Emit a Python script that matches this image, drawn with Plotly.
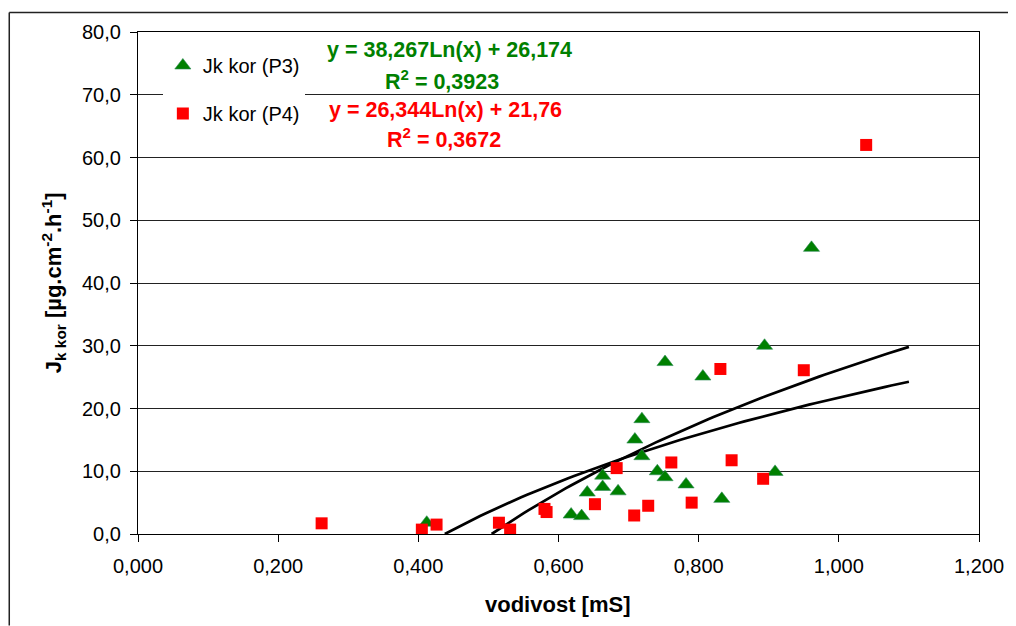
import numpy as np
import plotly.graph_objects as go

# ---- data ----
p3_x = [0.412, 0.618, 0.633, 0.641, 0.663, 0.663, 0.685, 0.709, 0.719, 0.719,
        0.741, 0.752, 0.752, 0.782, 0.806, 0.833, 0.894, 0.909, 0.961]
p3_y = [1.8, 3.1, 2.85, 6.6, 7.5, 9.3, 6.8, 15.05, 18.3, 12.4,
        10.0, 9.05, 27.4, 7.9, 25.1, 5.6, 30.0, 9.9, 45.6]
p4_x = [0.262, 0.405, 0.426, 0.515, 0.531, 0.580, 0.583, 0.652, 0.683, 0.708,
        0.728, 0.761, 0.790, 0.831, 0.847, 0.892, 0.950, 1.039]
p4_y = [1.7, 0.7, 1.5, 1.8, 0.7, 4.0, 3.5, 4.75, 10.5, 2.95,
        4.5, 11.4, 5.0, 26.3, 11.75, 8.8, 26.1, 62.0]

# trendline coefficients y = a*ln(x) + b (shown on chart)
p3_fit = [38.267, 26.174]
p4_fit = [26.344, 21.76]
trend_end = 1.1

x_ticks = [0.0, 0.2, 0.4, 0.6, 0.8, 1.0, 1.2]
y_ticks = [0, 10, 20, 30, 40, 50, 60, 70, 80]

GREEN = "#008000"
RED = "#FF0000"
FONT = "Liberation Sans, Arial, sans-serif"

# page body has an 8px margin -> figure starts at (8, 8) in the window
OX, OY = 8, 8
W, H = 1008, 618
ML, MT = 138 - OX, 32 - OY
PR, PB = 984 - OX, 534.5 - OY          # plot right / bottom in figure px
MR, MB = W - PR, H - PB
PW, PH = PR - ML, PB - MT


def px_x(px):
    """window pixel -> paper x"""
    return (px - OX - ML) / PW


def px_y(py):
    """window pixel -> paper y"""
    return (PB - (py - OY)) / PH


def trend(xs, fit):
    a, b = fit
    x0 = max(min(xs), float(np.exp(-b / a)))
    xx = np.linspace(x0, trend_end, 80)
    return xx, a * np.log(xx) + b


fig = go.Figure()

for xs, fit in ((p3_x, p3_fit), (p4_x, p4_fit)):
    tx, ty = trend(xs, fit)
    fig.add_trace(go.Scatter(x=tx, y=ty, mode="lines", showlegend=False,
                             line=dict(color="black", width=2.7),
                             hoverinfo="skip"))

fig.add_trace(go.Scatter(x=p3_x, y=p3_y, mode="markers", name="Jk kor (P3)",
                         legendgroup="a",
                         marker=dict(symbol="triangle-up", size=14, color=GREEN,
                                     line=dict(width=0.6, color="#2e8b57"))))
fig.add_trace(go.Scatter(x=p4_x, y=p4_y, mode="markers", name="Jk kor (P4)",
                         legendgroup="b",
                         marker=dict(symbol="square", size=12, color=RED,
                                     line=dict(width=0))))

fig.update_layout(
    width=W, height=H,
    margin=dict(l=ML, r=MR, t=MT, b=MB),
    paper_bgcolor="white", plot_bgcolor="white",
    separators=", ",
    font=dict(family=FONT, size=20, color="black"),
    showlegend=True,
    legend=dict(x=px_x(163), y=px_y(46), xanchor="left", yanchor="top",
                bgcolor="white", borderwidth=0, itemwidth=30,
                tracegroupgap=19, font=dict(size=20, family=FONT),
                traceorder="grouped"),
    xaxis=dict(range=[0, 1.2], tickvals=x_ticks, tickformat=".3f",
               showgrid=False, zeroline=False,
               showline=True, linecolor="black", linewidth=1.3, mirror=True,
               ticks="outside", ticklen=7, tickcolor="black", tickwidth=1.3,
               ticklabelstandoff=7,
               tickfont=dict(size=20, family=FONT)),
    yaxis=dict(range=[0, 80], tickvals=y_ticks, tickformat=".1f",
               showgrid=True, gridcolor="#222222", gridwidth=1.2,
               zeroline=False,
               showline=True, linecolor="black", linewidth=1.3, mirror=True,
               ticks="outside", ticklen=7, tickcolor="black", tickwidth=1.3,
               ticklabelstandoff=5,
               tickfont=dict(size=20, family=FONT)),
)

annotations = [
    dict(x=px_x(451), y=px_y(50), text="<b>y = 38,267Ln(x) + 26,174</b>",
         font=dict(color=GREEN, size=21.5)),
    dict(x=px_x(444), y=px_y(80), text="<b>R<sup>2</sup> = 0,3923</b>",
         font=dict(color=GREEN, size=21.5)),
    dict(x=px_x(447), y=px_y(110), text="<b>y = 26,344Ln(x) + 21,76</b>",
         font=dict(color=RED, size=21.5)),
    dict(x=px_x(446), y=px_y(138), text="<b>R<sup>2</sup> = 0,3672</b>",
         font=dict(color=RED, size=21.5)),
    dict(x=px_x(560), y=px_y(605), text="<b>vodivost [mS]</b>",
         font=dict(color="black", size=22)),
    dict(x=px_x(53), y=px_y(283), textangle=-90,
         text="<b>J<sub>k kor</sub> [µg.cm<sup>-2</sup>.h<sup>-1</sup>]</b>",
         font=dict(color="black", size=22)),
]
for a in annotations:
    a.update(xref="paper", yref="paper", showarrow=False,
             xanchor="center", yanchor="middle")
fig.update_layout(annotations=annotations)

# outer chart-area border: only its top and left edges fall inside the window
border = dict(color="#222222", width=1.5)
fig.add_shape(type="line", xref="paper", yref="paper",
              x0=px_x(8.5), x1=px_x(1016), y0=px_y(12.5), y1=px_y(12.5),
              line=border, layer="below")
fig.add_shape(type="line", xref="paper", yref="paper",
              x0=px_x(8.5), x1=px_x(8.5), y0=px_y(12.5), y1=px_y(626),
              line=border, layer="below")

fig.write_html("out.html", config={"displayModeBar": False})
